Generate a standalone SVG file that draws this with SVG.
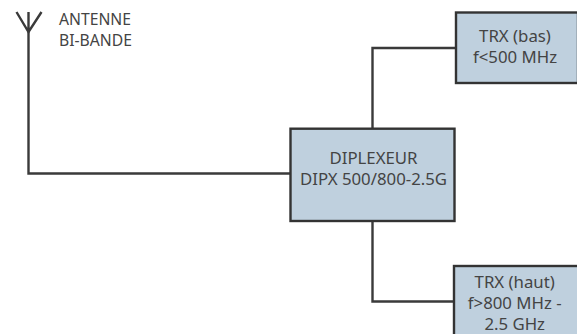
<svg xmlns="http://www.w3.org/2000/svg" width="577" height="334" viewBox="0 0 577 334">
<style>
.box{fill:#bfd0de;stroke:#333;stroke-width:2.4}
.wire{fill:none;stroke:#3a3a3a;stroke-width:2.4}
text{font-family:"Noto Sans","DejaVu Sans",sans-serif;fill:#444;font-size:16.800px;text-anchor:middle}
.lab{text-anchor:start;font-size:15.700px}
</style>
<rect width="577" height="334" fill="#fff"/>
<g id="connectors">
<path class="wire" d="M28.5 32V173.5H291"/>
<path class="wire" d="M372.5 129V48H456"/>
<path class="wire" d="M372.5 221V301.5H454"/>
</g>
<g id="antenna">
<path class="wire" d="M16.500 12L28.500 32L41.500 12M28.500 12V32"/>
<text class="lab" x="59" y="25">ANTENNE</text>
<text class="lab" x="59" y="45.700">BI-BANDE</text>
</g>
<g id="diplexeur">
<rect class="box" x="290.500" y="128.700" width="164" height="92.300"/>
<text x="373.500" y="163.500">DIPLEXEUR</text>
<text x="373.500" y="185">DIPX 500/800-2.5G</text>
</g>
<g id="trx-bas">
<rect class="box" x="456" y="12.500" width="122" height="70.500"/>
<text x="515" y="41.500">TRX (bas)</text>
<text x="515" y="62.500">f&lt;500 MHz</text>
</g>
<g id="trx-haut">
<rect class="box" x="454" y="266" width="125" height="72"/>
<text x="514.700" y="288">TRX (haut)</text>
<text x="514.700" y="309">f&gt;800 MHz -</text>
<text x="514.700" y="330">2.5 GHz</text>
</g>
</svg>
